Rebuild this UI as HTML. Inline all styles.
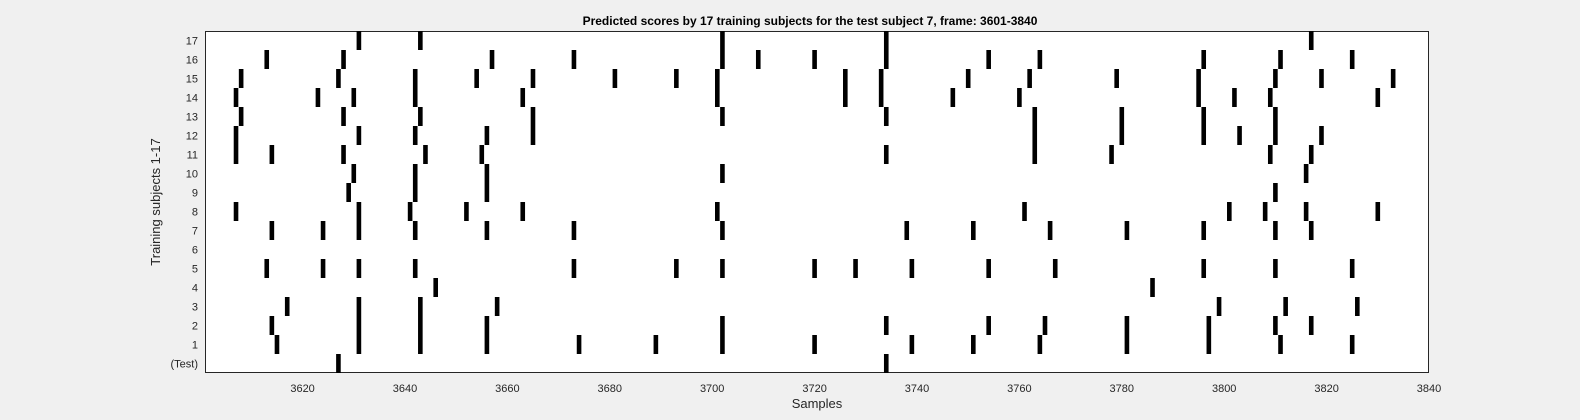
<!DOCTYPE html>
<html><head><meta charset="utf-8"><style>
html,body{margin:0;padding:0;background:#f0f0f0;}
svg{display:block;font-family:"Liberation Sans",Arial,sans-serif;}
</style></head><body>
<svg id="chart" width="1580" height="420" viewBox="0 0 1580 420">
<rect x="0" y="0" width="1580" height="420" fill="#f0f0f0"/>
<text x="810" y="25" text-anchor="middle" font-size="12" font-weight="bold" fill="#000">Predicted scores by 17 training subjects for the test subject 7, frame: 3601-3840</text>
<rect x="205.5" y="31.5" width="1223" height="341" fill="#fff" stroke="#262626" stroke-width="1"/>
<g id="marks"></g>
<g id="axes"></g>
<text x="817" y="408" text-anchor="middle" font-size="13" fill="#262626">Samples</text>
<text x="160" y="202" text-anchor="middle" font-size="13" fill="#262626" transform="rotate(-90 160 202)">Training subjects 1-17</text>
</svg>
<script>
const rowLabels = ["(Test)","1","2","3","4","5","6","7","8","9","10","11","12","13","14","15","16","17"];
const xTicks = [3620,3640,3660,3680,3700,3720,3740,3760,3780,3800,3820,3840];
const rowTest = [3627,3734];
const row1 = [3615,3631,3643,3656,3674,3689,3702,3720,3739,3751,3764,3781,3797,3811,3825];
const row2 = [3614,3631,3643,3656,3702,3734,3754,3765,3781,3797,3810,3817];
const row3 = [3617,3631,3643,3658,3799,3812,3826];
const row4 = [3646,3786];
const row5 = [3613,3624,3631,3642,3673,3693,3702,3720,3728,3739,3754,3767,3796,3810,3825];
const row6 = [];
const row7 = [3614,3624,3631,3642,3656,3673,3702,3738,3751,3766,3781,3796,3810,3817];
const row8 = [3607,3631,3641,3652,3663,3701,3761,3801,3808,3816,3830];
const row9 = [3629,3642,3656,3810];
const row10 = [3630,3642,3656,3702,3816];
const row11 = [3607,3614,3628,3644,3655,3734,3763,3778,3809,3817];
const row12 = [3607,3631,3642,3656,3665,3763,3780,3796,3803,3810,3819];
const row13 = [3608,3628,3643,3665,3702,3734,3763,3780,3796,3810];
const row14 = [3607,3623,3630,3642,3663,3701,3726,3733,3747,3760,3795,3802,3809,3830];
const row15 = [3608,3627,3642,3654,3665,3681,3693,3701,3726,3733,3750,3762,3779,3795,3810,3819,3833];
const row16 = [3613,3628,3657,3673,3702,3709,3720,3734,3754,3764,3796,3811,3825];
const row17 = [3631,3643,3702,3734,3817];
const rows = [rowTest,row1,row2,row3,row4,row5,row6,row7,row8,row9,row10,row11,row12,row13,row14,row15,row16,row17];

const NS = "http://www.w3.org/2000/svg";
const X0 = 205.3, X1 = 1429, XMIN = 3601, XMAX = 3840;
const Y0 = 373, ROWH = 19;
function xs(v){ return X0 + (v - XMIN) * (X1 - X0) / (XMAX - XMIN); }
function ys(r){ return Y0 - ROWH * (r + 1); }
const unit = (X1 - X0) / (XMAX - XMIN);
const marks = document.getElementById('marks');
rows.forEach((arr, r) => {
  arr.forEach(v => {
    const el = document.createElementNS(NS, 'rect');
    el.setAttribute('x', xs(v) - unit * 0.45);
    el.setAttribute('y', ys(r));
    el.setAttribute('width', unit * 0.9);
    el.setAttribute('height', ROWH);
    el.setAttribute('fill', '#000');
    
    
    marks.appendChild(el);
  });
});
const axes = document.getElementById('axes');
xTicks.forEach(t => {
  const x = xs(t);
  const tx = document.createElementNS(NS, 'text');
  tx.setAttribute('x', x); tx.setAttribute('y', 392);
  tx.setAttribute('text-anchor', 'middle');
  tx.setAttribute('font-size', '11');
  tx.setAttribute('fill', '#262626');
  tx.textContent = t;
  
  
  axes.appendChild(tx);
});
rowLabels.forEach((l, r) => {
  const y = ys(r) + ROWH / 2;
  const tx = document.createElementNS(NS, 'text');
  tx.setAttribute('x', 198); tx.setAttribute('y', y + 4);
  tx.setAttribute('text-anchor', 'end');
  tx.setAttribute('font-size', '11');
  tx.setAttribute('fill', '#262626');
  tx.textContent = l;
  
  
  axes.appendChild(tx);
});
</script>
</body></html>
